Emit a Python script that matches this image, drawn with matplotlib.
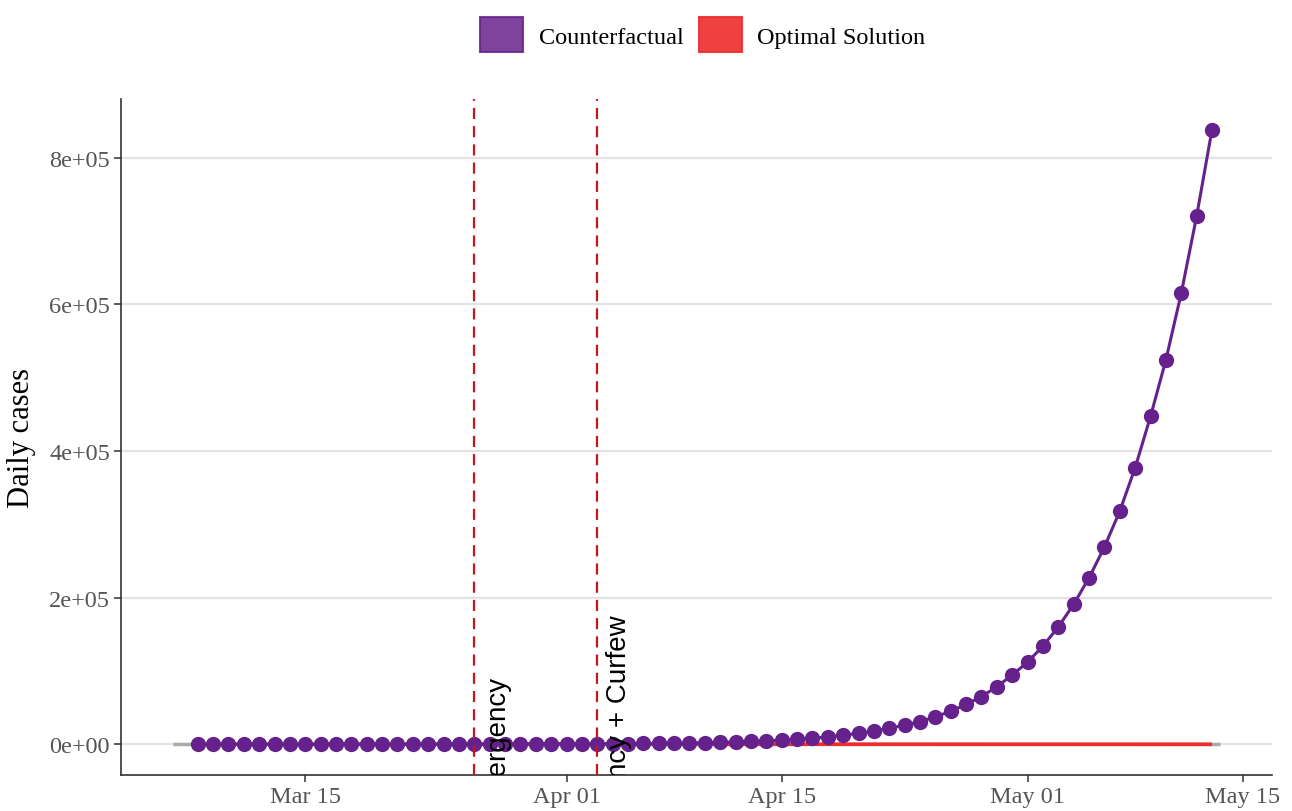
import numpy as np
import pandas as pd
import matplotlib
matplotlib.use("Agg")
import matplotlib.pyplot as plt
import matplotlib.dates as mdates
from matplotlib.patches import Patch
from matplotlib.ticker import FuncFormatter

# daily series, Mar 08 .. May 13
dates = pd.date_range("2020-03-08", "2020-05-13", freq="D")

counterfactual = [
    20, 25, 30, 35, 40, 50, 55, 65, 75, 85, 95, 110, 125, 140, 160, 180,
    200, 225, 250, 280, 310, 350, 400, 460,
    530, 610, 700, 810, 940, 1100, 1300, 1550, 1850, 2200,
    2650, 3200, 3900, 4700, 5700, 6900, 8300, 10000, 12500, 15000,
    18000, 22000, 26000, 31000, 37500, 45000, 54500, 65000, 78500, 94500,
    112000, 134000, 160000, 191000, 227000, 269000, 318000, 377000,
    447000, 524000, 615000, 720000, 838000,
]

optimal = [
    20, 25, 30, 35, 40, 50, 55, 65, 75, 85, 95, 110, 125, 140, 160, 180,
    200, 225, 250,
    265, 275, 280, 285, 285, 280, 275, 265, 255, 245,
    235, 225, 215, 205, 195, 185, 175, 165, 155, 145,
    135, 125, 118, 110, 103, 96, 90, 84, 78, 73,
    68, 63, 59, 55, 51, 48, 45, 42, 39, 36,
    34, 32, 30, 28, 26, 24, 22, 21,
]

# baseline band under the series
base_dates = pd.to_datetime(["2020-03-06 10:00", "2020-05-13 12:00"])
base_vals = [0, 0]

events = pd.to_datetime(["2020-03-26", "2020-04-03"])
event_labels = ["Emergency", "Emergency + Curfew"]

tick_dates = pd.to_datetime(["2020-03-15", "2020-04-01", "2020-04-15",
                             "2020-05-01", "2020-05-15"])

purple = "#66228c"
red = "#ee2c2c"
serif = ["Liberation Serif", "DejaVu Serif"]

fig = plt.figure(figsize=(12.92, 8.12), dpi=100)
ax = fig.add_axes([0.0937, 0.0443, 0.8908, 0.8325])

ax.plot(base_dates, base_vals, color="#aaaaaa", lw=2.5, zorder=2,
        solid_capstyle="butt")
ax.plot(dates, optimal, color=red, lw=2.6, zorder=3, solid_capstyle="butt")
ax.plot(dates, counterfactual, color=purple, lw=2.2, zorder=4)
ax.plot(dates, counterfactual, "o", color=purple, ms=11, mec="none", zorder=5)

for d, lab in zip(events, event_labels):
    ax.axvline(d, color="#c4161c", lw=1.6, ls=(0, (5, 3.2)), zorder=6)
    ax.text(d + pd.Timedelta(hours=14), 0, lab, rotation=90, ha="left",
            va="center", fontsize=20, family=["Liberation Sans", "DejaVu Sans"],
            color="black", clip_on=True, zorder=7)

# limits with 5% padding
span = base_dates[1] - base_dates[0]
ax.set_xlim(base_dates[0] - span * 0.05, base_dates[1] + span * 0.05)
ymax = max(counterfactual)
ax.set_ylim(-0.05 * ymax, 1.05 * ymax)

ax.set_xticks(tick_dates)
ax.xaxis.set_major_formatter(mdates.DateFormatter("%b %d"))
ax.set_yticks([0, 2e5, 4e5, 6e5, 8e5])
ax.yaxis.set_major_formatter(FuncFormatter(
    lambda v, p: "{:.0e}".format(v) if v else "0e+00"))

ax.grid(axis="y", color="#e3e3e3", lw=1.6, zorder=0)
ax.set_axisbelow(True)
for s in ["top", "right"]:
    ax.spines[s].set_visible(False)
for s in ["left", "bottom"]:
    ax.spines[s].set_color("#333333")
    ax.spines[s].set_linewidth(1.2)
ax.tick_params(axis="both", length=5, width=1.1, color="#333333",
               labelcolor="#555555", labelsize=17.5, pad=3)
for lab in ax.get_xticklabels() + ax.get_yticklabels():
    lab.set_family(serif)

ax.set_ylabel("Daily cases", fontsize=22, family=serif, labelpad=9)

handles = [
    Patch(facecolor=purple, edgecolor=purple, alpha=0.85, lw=1.5,
          label="Counterfactual"),
    Patch(facecolor=red, edgecolor=red, alpha=0.9, lw=1.5,
          label="Optimal Solution"),
]
fig.legend(handles=handles, loc="center", bbox_to_anchor=(0.544, 0.956),
           ncol=2, frameon=False, prop={"family": serif, "size": 17.5},
           handlelength=1.75, handleheight=1.85, handletextpad=0.65,
           columnspacing=0.65)

fig.savefig("out.png", dpi=100)
